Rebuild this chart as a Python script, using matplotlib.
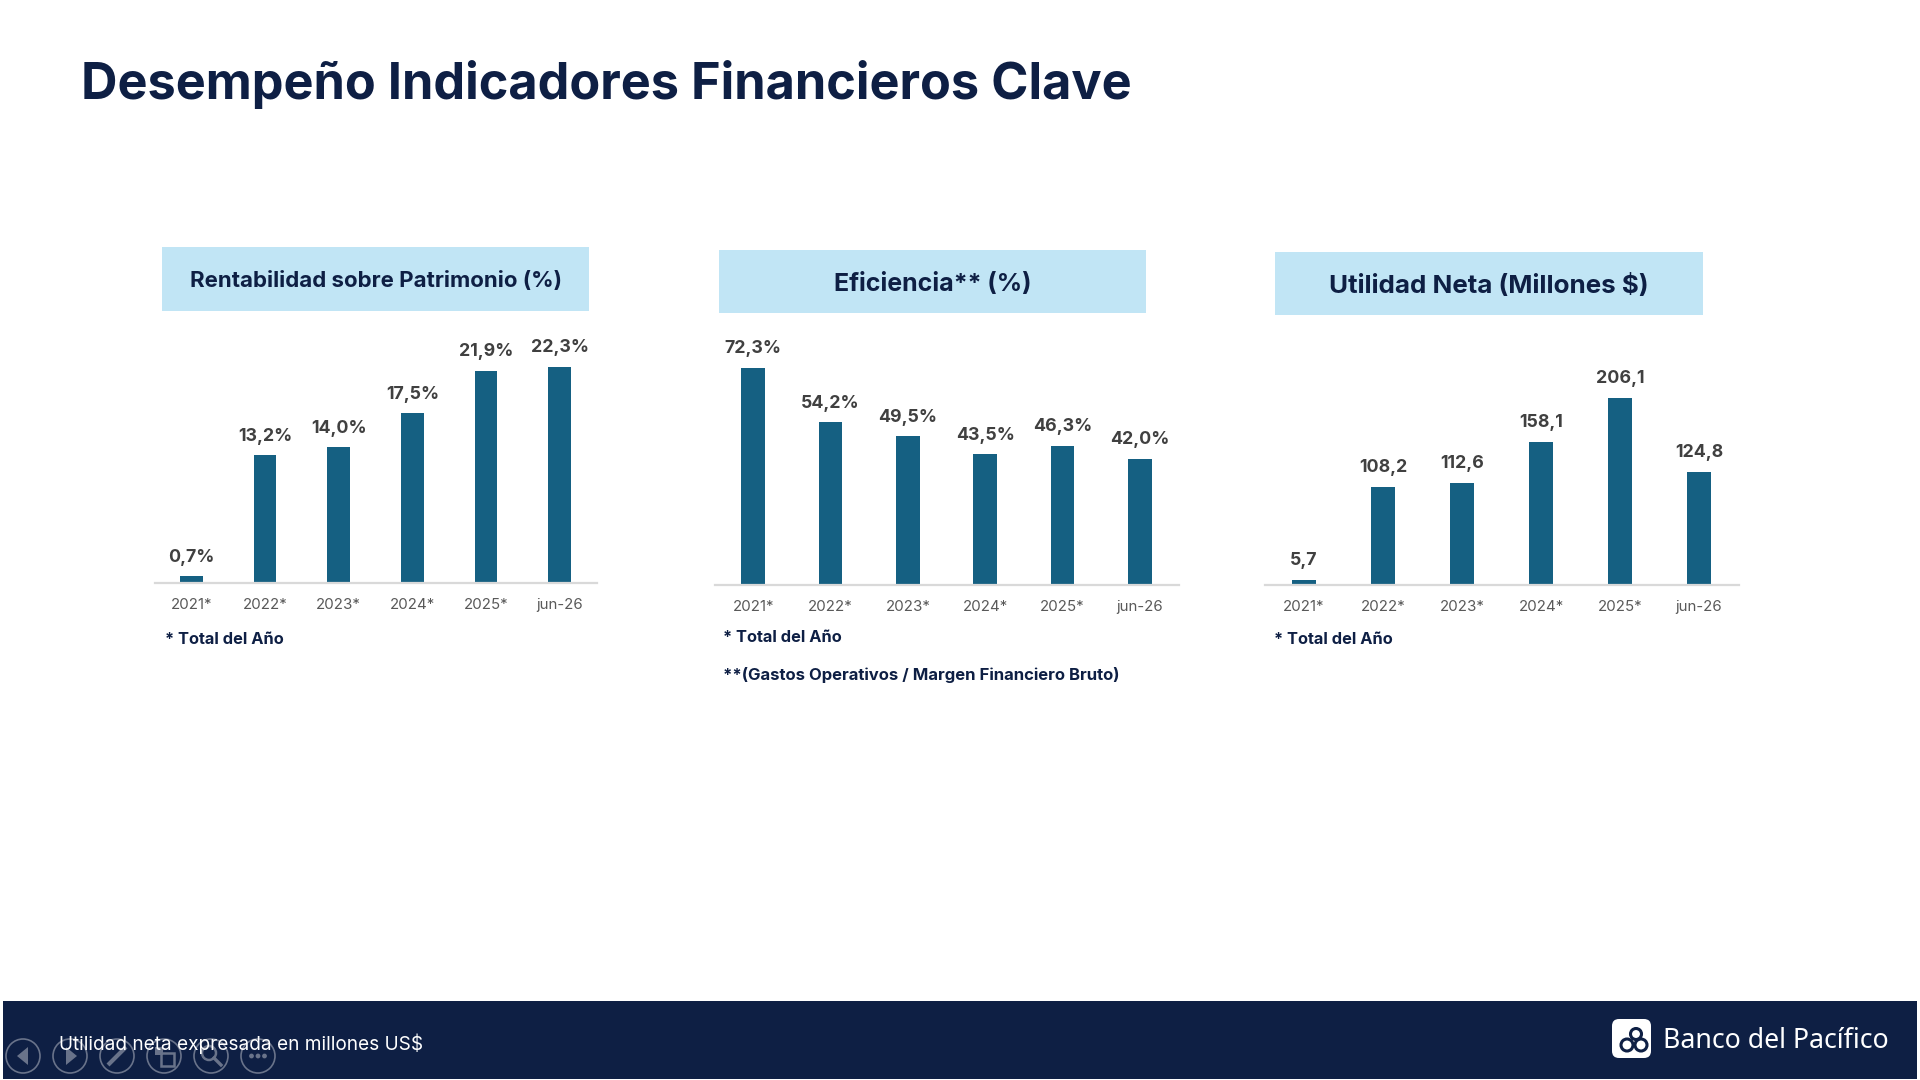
import matplotlib
matplotlib.use("Agg")
import matplotlib.pyplot as plt
from matplotlib.patches import Rectangle, Circle, FancyBboxPatch, Polygon

W, H = 1920, 1080
NAVY = "#0E1F44"
BAR = "#156082"
HEAD = "#C1E5F5"
FONT = "Inter"

categories = ["2021*", "2022*", "2023*", "2024*", "2025*", "jun-26"]
roe_values = [0.7, 13.2, 14.0, 17.5, 21.9, 22.3]
roe_labels = ["0,7%", "13,2%", "14,0%", "17,5%", "21,9%", "22,3%"]
eff_values = [72.3, 54.2, 49.5, 43.5, 46.3, 42.0]
eff_labels = ["72,3%", "54,2%", "49,5%", "43,5%", "46,3%", "42,0%"]
net_values = [5.7, 108.2, 112.6, 158.1, 206.1, 124.8]
net_labels = ["5,7", "108,2", "112,6", "158,1", "206,1", "124,8"]

plt.rcParams["font.family"] = [FONT, "DejaVu Sans"]
fig = plt.figure(figsize=(W / 100, H / 100), dpi=100, facecolor="white")

bg = fig.add_axes([0, 0, 1, 1], zorder=0)
bg.set_xlim(0, W); bg.set_ylim(H, 0); bg.axis("off")

top = fig.add_axes([0, 0, 1, 1], zorder=5)
top.set_xlim(0, W); top.set_ylim(H, 0); top.axis("off"); top.patch.set_alpha(0)


def chart(x0, x1, ybase, ytop_px, ref, values, labels, width, pad):
    scale_top = ref * (ybase - ytop_px[0]) / ytop_px[1]
    ax = fig.add_axes([x0 / W, 1 - ybase / H, (x1 - x0) / W, (ybase - ytop_px[0]) / H], zorder=2)
    ax.patch.set_alpha(0)
    ax.bar(range(len(values)), values, width=width, color=BAR)
    ax.set_xlim(-0.5, 5.5)
    ax.set_ylim(0, scale_top)
    ax.set_xticks(range(len(categories)), categories)
    ax.tick_params(axis="x", length=0, pad=pad, labelsize=10.8, labelcolor="#595959")
    ax.set_yticks([])
    for s in ["top", "left", "right"]:
        ax.spines[s].set_visible(False)
    ax.spines["bottom"].set_color("#D9D9D9")
    ax.spines["bottom"].set_linewidth(1.6)
    for i, (v, t) in enumerate(zip(values, labels)):
        ax.annotate(t, (i, v), xytext=(0, 7.6), textcoords="offset points", ha="center", va="bottom",
                    fontsize=12.8, fontweight="bold", color="#404040")


chart(154.5, 596.5, 583, (340, 216), 22.3, roe_values, roe_labels, 0.31, 10.6)
chart(714.5, 1178.5, 585, (340, 217), 72.3, eff_values, eff_labels, 0.31, 11)
chart(1264.5, 1738.5, 585, (340, 187), 206.1, net_values, net_labels, 0.31, 11)

# Title
bg.text(81, 84.5, "Desempeño Indicadores Financieros Clave", fontsize=36.3, fontweight="bold",
        color=NAVY, va="center", ha="left")

# Header boxes
headers = [("Rentabilidad sobre Patrimonio (%)", 162, 247, 427, 64, 16, 2),
           ("Eficiencia** (%)", 719, 250, 427, 63, 18, 3),
           ("Utilidad Neta (Millones $)", 1275, 252, 428, 63, 18.7, 3)]
for t, x, y, w, h, fs, dy in headers:
    bg.add_patch(Rectangle((x, y), w, h, color=HEAD, lw=0))
    bg.text(x + w / 2, y + h / 2 + dy, t, fontsize=fs, fontweight="bold", color=NAVY, ha="center", va="center")

# Notes
notes = [("* Total del Año", 165, 640, 11.8), ("* Total del Año", 723, 637, 11.8),
         ("**(Gastos Operativos / Margen Financiero Bruto)", 723, 675, 12), ("* Total del Año", 1274, 640, 11.8)]
for t, x, y, fs in notes:
    bg.text(x, y, t, fontsize=fs, fontweight="bold", color=NAVY, ha="left", va="center")

# Footer
bg.add_patch(Rectangle((3, 1001), 1914, 78, color=NAVY, lw=0))
top.text(59, 1044, "Utilidad neta expresada en millones US$", fontsize=13.7, color="white", ha="left", va="center")

# Slideshow controls
ICON = "#69738A"
for cx in [23, 70, 117, 164, 211, 258]:
    top.add_patch(Circle((cx, 1056), 17, fill=False, ec=ICON, lw=1.2))
top.add_patch(Polygon([(28, 1047), (28, 1065), (17, 1056)], color=ICON, lw=0))
top.add_patch(Polygon([(66, 1047), (66, 1065), (77, 1056)], color=ICON, lw=0))
top.plot([108, 126], [1065, 1047], color=ICON, lw=3, solid_capstyle="butt")
top.add_patch(Rectangle((161, 1053), 13, 13, fill=False, ec=ICON, lw=1.8))
top.add_patch(Rectangle((155, 1047), 8, 8, color=ICON, lw=0))
top.add_patch(Circle((209, 1053), 7, fill=False, ec=ICON, lw=1.8))
top.plot([214, 221], [1058, 1065], color=ICON, lw=2.4)
for dx in [-6.5, 0, 6.5]:
    top.add_patch(Circle((258 + dx, 1056), 2.4, color=ICON, lw=0))

# Brand
top.add_patch(FancyBboxPatch((1615, 1022), 33, 33, boxstyle="round,pad=3,rounding_size=7", color="white", lw=0))
for cx, cy, r in [(1636, 1034, 5.5), (1627, 1045, 6), (1641, 1045, 6)]:
    top.add_patch(Circle((cx, cy), r, fill=False, ec=NAVY, lw=2.2))
top.text(1663, 1041, "Banco del Pacífico", fontsize=19.2, color="white", ha="left", va="center",
         family="Noto Sans", fontweight="medium")

fig.savefig("out.png", dpi=100)
